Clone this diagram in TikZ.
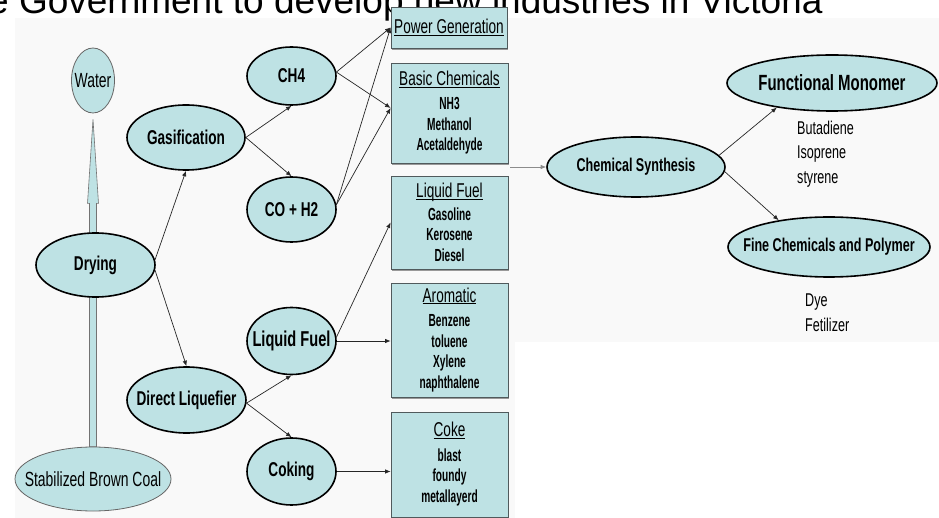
\documentclass[tikz,border=0pt]{standalone}
\usepackage{fontspec}
\setmainfont{Liberation Sans}[FakeStretch=0.68]
\newfontfamily\titlefont{Liberation Sans}
\newfontfamily\itemfont{Liberation Sans}[FakeStretch=0.58]
\usetikzlibrary{shapes.geometric,arrows.meta,backgrounds,calc,shadows}
\definecolor{nodefill}{RGB}{190,226,228}
\definecolor{bgfill}{RGB}{249,249,249}
\definecolor{boxline}{RGB}{80,90,92}
\newcommand{\zw}[1]{\makebox[0pt][c]{#1}}
\newcommand{\myul}[1]{\underline{\smash{#1}\vphantom{A}}}
\begin{document}
\begin{tikzpicture}[x=1pt,y=-1pt,
  boldell/.style={ellipse, draw=black, line width=1.6pt, fill=nodefill, inner sep=0pt,
    font=\fontsize{20}{22}\selectfont\bfseries},
  thinell/.style={ellipse, draw=black!60, line width=0.8pt, fill=nodefill, inner sep=0pt,
    font=\fontsize{20.5}{22}\selectfont},
  prodbox/.style={rectangle, draw=boxline, line width=0.8pt, fill=nodefill, inner sep=0pt,
    minimum width=117pt, align=center, font=\itemfont\fontsize{17.5}{20.5}\selectfont\bfseries,
    drop shadow={shadow xshift=1.2pt, shadow yshift=-1.6pt, fill=black!40, opacity=1}},
  conn/.style={draw=black!85, line width=0.7pt, -{Latex[length=5.5pt,width=4.5pt]}},
  listtext/.style={align=left, inner sep=0pt, font=\fontsize{18.5}{24.5}\selectfont},
  fatarrow/.style={fill=nodefill, draw=black!55, line width=0.6pt}
]
\useasboundingbox (0,0) rectangle (939,518);

% title (clipped at the top edge)
\node[anchor=base west, inner sep=0pt, font=\titlefont\fontsize{37}{38}\selectfont] (title) at (-12,13.5)
  {e Government to develop new industries in Victoria};

% ellipses
\node[thinell, minimum width=43pt, minimum height=65pt] (wat) at (93,80.5) {\zw{Water}};
\node[boldell, minimum width=118pt, minimum height=65pt] (gas) at (186,137.5) {\zw{Gasification}};
\node[boldell, minimum width=119pt, minimum height=64pt] (dry) at (95.5,265) {\zw{Drying}};
\node[thinell, minimum width=156pt, minimum height=64pt] (sbc) at (93,479) {\zw{Stabilized Brown Coal}};
\node[boldell, minimum width=119pt, minimum height=66pt] (dl) at (186.5,400) {\zw{Direct Liquefier}};
\node[boldell, minimum width=89pt, minimum height=58pt] (ch4) at (291.5,76) {\zw{CH4}};
\node[boldell, minimum width=89pt, minimum height=65pt] (co) at (291.5,209.5) {\zw{CO + H2}};
\node[boldell, minimum width=89pt, minimum height=67pt, font=\fontsize{21.5}{22}\selectfont\bfseries] (lf) at (291.5,341) {\zw{Liquid Fuel}};
\node[boldell, minimum width=89pt, minimum height=67pt] (cok) at (291.5,471.5) {\zw{Coking}};
\node[boldell, minimum width=178pt, minimum height=60pt, font=\fontsize{18.5}{22}\selectfont\bfseries] (cs) at (636,167) {\zw{Chemical Synthesis}};
\node[boldell, minimum width=210pt, minimum height=56pt, font=\fontsize{22}{22}\selectfont\bfseries] (fm) at (832,83) {\zw{Functional Monomer}};
\node[boldell, minimum width=202pt, minimum height=60pt, font=\fontsize{18.5}{22}\selectfont\bfseries] (fcp) at (829,247) {\zw{Fine Chemicals and Polymer}};

% product boxes
\newcommand{\bt}[1]{{\rmfamily\fontsize{20}{20.5}\selectfont\mdseries\myul{#1}}}
\node[prodbox, minimum width=116pt, minimum height=41pt] (pg) at (449,27.5) {\bt{Power Generation}};
\node[prodbox, minimum height=100pt] (bc) at (449.5,113) {\bt{Basic Chemicals}\\[4pt]NH3\\Methanol\\Acetaldehyde};
\node[prodbox, minimum height=93pt] (lfb) at (449.5,222.5) {\bt{Liquid Fuel}\\[2pt]Gasoline\\Kerosene\\Diesel};
\node[prodbox, minimum height=114pt] (ar) at (449.5,340) {\bt{Aromatic}\\[4pt]Benzene\\toluene\\Xylene\\naphthalene};
\node[prodbox, minimum height=105pt] (coke) at (449.5,464.5) {\bt{Coke}\\[4pt]blast\\foundy\\metallayerd};

% lists
\node[listtext, anchor=west] (mono) at (797,154) {Butadiene\\Isoprene\\styrene};
\node[listtext, anchor=west] (fine) at (805,312.5) {Dye\\Fetilizer};

% background and fat arrow
\begin{scope}[on background layer]
  \fill[bgfill] (15,18) rectangle (939,342);
  \fill[bgfill] (15,342) rectangle (515,518);
  \draw[fatarrow] ($(sbc.north)+(-3.5,0)$) -- ($(wat.south)+(-3.5,90)$)
    -- ($(wat.south)+(-5.5,90)$) -- ($(wat.south)+(0,6)$) -- ($(wat.south)+(5.5,90)$)
    -- ($(wat.south)+(3.5,90)$) -- ($(sbc.north)+(3.5,0)$) -- cycle;
\end{scope}

% connectors
\coordinate (bcin) at ($(bc.west)+(0,-5)$);
\coordinate (csin) at ($(bc.east)+(2,54)$);
\draw[conn] (dry.5) -- (gas.south);
\draw[conn] (dry.-5) -- (dl.north);
\draw[conn] (gas.east) -- (ch4.south);
\draw[conn] (gas.east) -- (co.north);
\draw[conn] (ch4.5) -- (pg.west);
\draw[conn] (ch4.5) -- (bcin);
\draw[conn] (co.6) -- (pg.west);
\draw[conn] (co.6) -- (bcin);
\draw[conn] (lf.5) -- (lfb.west);
\draw[conn] (lf.east) -- (lf.east -| ar.west);
\draw[conn] (dl.-3) -- (lf.south);
\draw[conn] (dl.-3) -- (cok.north);
\draw[conn] (cok.east) -- (cok.east -| coke.west);
\draw[conn, draw=black!45] (csin) -- (cs.west);
\draw[conn] (cs.8) -- (fm.204);
\draw[conn] (cs.-3) -- (fcp.152);
\end{tikzpicture}
\end{document}
